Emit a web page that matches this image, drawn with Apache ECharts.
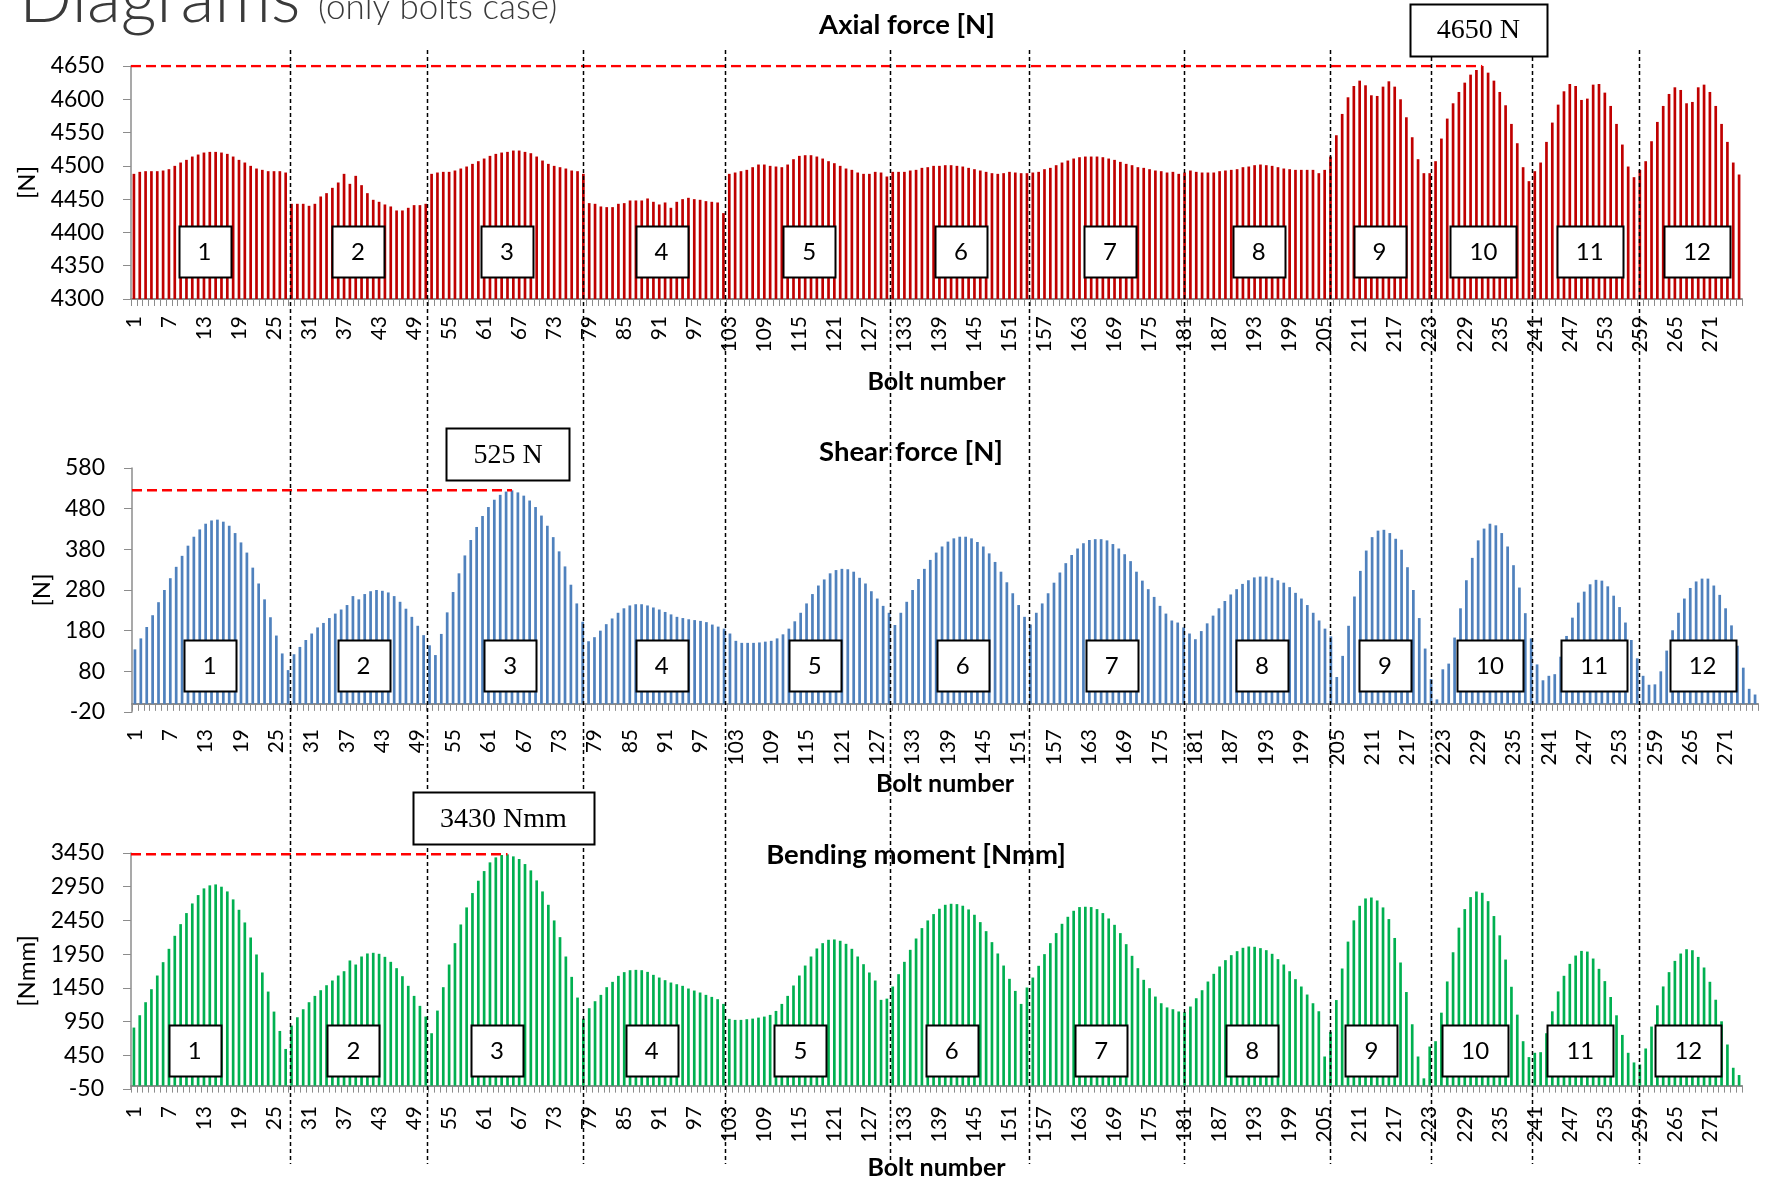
<!DOCTYPE html>
<html>
<head>
<meta charset="utf-8">
<script src="https://cdn.jsdelivr.net/npm/echarts@6/dist/echarts.min.js"></script>
<style>
  html, body { margin: 0; padding: 0; background: #ffffff; }
  #chart { width: 1770px; height: 1180px; }
</style>
</head>
<body>
<div id="chart"></div>
<script>
// Bolt numbers along the flange (categories of every panel)
const boltNumbers = Array.from({ length: 276 }, (_, i) => String(i + 1));

// Axial force per bolt [N], one line per bolt group
const axialForce = [
  4488, 4491, 4492, 4492, 4492, 4493, 4495, 4500, 4505, 4509, 4514, 4517, 4520, 4521, 4521, 4520, 4518, 4514, 4509, 4505, 4500, 4496, 4494, 4492, 4492, 4492, 4490,
  4443, 4443, 4443, 4440, 4443, 4454, 4459, 4467, 4475, 4488, 4473, 4485, 4471, 4459, 4449, 4446, 4442, 4439, 4433, 4433, 4437, 4441, 4441, 4443,
  4488, 4490, 4491, 4491, 4493, 4496, 4499, 4503, 4507, 4511, 4515, 4518, 4520, 4521, 4523, 4523, 4521, 4519, 4514, 4508, 4503, 4500, 4498, 4496, 4493, 4492, 4488,
  4444, 4443, 4439, 4438, 4438, 4443, 4444, 4448, 4448, 4448, 4451, 4446, 4442, 4445, 4437, 4446, 4450, 4452, 4450, 4449, 4447, 4446, 4445, 4429,
  4488, 4490, 4492, 4494, 4498, 4502, 4502, 4500, 4499, 4498, 4502, 4510, 4515, 4516, 4516, 4514, 4511, 4507, 4504, 4500, 4496, 4494, 4490, 4488, 4488, 4491, 4490,
  4484, 4491, 4491, 4491, 4493, 4494, 4497, 4498, 4500, 4500, 4501, 4501, 4500, 4499, 4497, 4495, 4493, 4491, 4489, 4488, 4489, 4491, 4490, 4489,
  4489, 4490, 4491, 4495, 4497, 4501, 4505, 4508, 4511, 4513, 4514, 4514, 4514, 4513, 4511, 4509, 4506, 4503, 4501, 4498, 4497, 4495, 4493, 4492, 4490, 4491, 4488,
  4490, 4493, 4491, 4490, 4490, 4490, 4492, 4493, 4494, 4495, 4498, 4499, 4501, 4502, 4501, 4500, 4498, 4496, 4495, 4494, 4494, 4494, 4494, 4489,
  4494, 4514, 4546, 4578, 4603, 4620, 4628, 4621, 4606, 4605, 4619, 4627, 4619, 4600, 4573, 4543, 4510, 4489,
  4489, 4507, 4541, 4571, 4594, 4611, 4625, 4637, 4644, 4650, 4640, 4628, 4611, 4591, 4563, 4534, 4498, 4477,
  4492, 4505, 4536, 4565, 4592, 4612, 4623, 4620, 4599, 4601, 4622, 4623, 4610, 4590, 4563, 4532, 4499, 4483,
  4494, 4507, 4537, 4566, 4590, 4608, 4618, 4614, 4594, 4596, 4618, 4622, 4611, 4590, 4563, 4536, 4505, 4487
];

// Shear force per bolt [N]
const shearForce = [
  134, 161, 189, 218, 250, 280, 309, 337, 364, 389, 411, 429, 443, 451, 453, 448, 438, 420, 397, 372, 335, 296, 257, 213, 168, 124, 83,
  122, 140, 157, 173, 188, 199, 211, 222, 232, 243, 265, 257, 270, 277, 280, 278, 274, 265, 251, 234, 214, 192, 169, 144,
  120, 172, 225, 275, 321, 365, 403, 435, 462, 484, 502, 514, 522, 525, 520, 512, 500, 484, 463, 438, 410, 375, 338, 293, 247, 202, 154,
  164, 180, 196, 210, 224, 235, 242, 245, 245, 242, 237, 232, 226, 220, 214, 211, 208, 206, 204, 201, 195, 190, 185, 173,
  155, 150, 150, 150, 151, 153, 155, 161, 171, 185, 203, 224, 247, 270, 291, 306, 321, 329, 332, 331, 325, 310, 296, 277, 259, 241, 224,
  194, 224, 251, 280, 307, 332, 354, 372, 387, 399, 407, 411, 411, 407, 398, 387, 370, 349, 325, 299, 272, 243, 214, 195,
  224, 247, 272, 298, 323, 346, 366, 382, 395, 403, 405, 405, 402, 393, 382, 368, 351, 325, 303, 282, 263, 241, 222, 205, 200, 188, 173,
  159, 179, 198, 217, 235, 253, 269, 282, 295, 304, 311, 313, 313, 310, 304, 298, 287, 273, 259, 243, 224, 205, 185, 166,
  66, 118, 192, 264, 327, 377, 410, 426, 428, 420, 406, 379, 336, 280, 211, 136, 61, 11,
  85, 99, 163, 235, 304, 359, 402, 431, 443, 439, 420, 387, 341, 286, 223, 161, 97, 58,
  69, 73, 116, 167, 212, 249, 276, 294, 305, 303, 289, 266, 238, 200, 157, 112, 69, 47,
  48, 80, 131, 181, 224, 259, 285, 301, 308, 308, 291, 268, 235, 193, 143, 89, 37, 23
];

// Bending moment per bolt [Nmm]
const bendingMoment = [
  861, 1044, 1237, 1430, 1633, 1831, 2029, 2222, 2395, 2559, 2702, 2826, 2925, 2970, 2984, 2950, 2880, 2762, 2608, 2420, 2197, 1945, 1678, 1395, 1098, 811, 544,
  891, 1014, 1133, 1237, 1331, 1415, 1489, 1559, 1633, 1697, 1856, 1796, 1915, 1960, 1970, 1955, 1910, 1836, 1742, 1623, 1480, 1331, 1183, 1024,
  777, 1113, 1460, 1796, 2113, 2390, 2643, 2856, 3039, 3182, 3311, 3385, 3420, 3430, 3400, 3361, 3286, 3192, 3044, 2880, 2682, 2450, 2202, 1915, 1613, 1306, 994,
  1148, 1252, 1346, 1460, 1539, 1628, 1683, 1712, 1717, 1712, 1687, 1643, 1603, 1564, 1529, 1504, 1480, 1440, 1410, 1381, 1346, 1316, 1282, 1212,
  990, 975, 975, 985, 994, 1009, 1024, 1049, 1108, 1212, 1331, 1485, 1633, 1781, 1915, 2034, 2113, 2163, 2168, 2148, 2103, 2029, 1915, 1801, 1678, 1559, 1272,
  1290, 1470, 1653, 1836, 2014, 2182, 2336, 2450, 2544, 2623, 2682, 2697, 2692, 2668, 2613, 2534, 2425, 2291, 2128, 1960, 1781, 1584, 1405, 1212,
  1455, 1603, 1777, 1950, 2113, 2262, 2400, 2504, 2593, 2648, 2653, 2648, 2618, 2559, 2479, 2385, 2262, 2098, 1925, 1742, 1569, 1445, 1321, 1222, 1160, 1133, 1100,
  1090, 1173, 1296, 1415, 1544, 1658, 1767, 1861, 1935, 1994, 2044, 2064, 2059, 2039, 2009, 1955, 1876, 1796, 1697, 1579, 1470, 1351, 1222, 1103,
  432, 797, 1269, 1737, 2136, 2451, 2667, 2776, 2790, 2746, 2643, 2470, 2190, 1826, 1388, 910, 432, 108,
  580, 659, 1082, 1545, 1978, 2343, 2618, 2796, 2879, 2860, 2736, 2515, 2229, 1870, 1466, 1053, 659, 423,
  487, 496, 777, 1102, 1397, 1629, 1806, 1929, 1998, 1988, 1885, 1732, 1550, 1314, 1043, 752, 487, 344,
  314, 551, 876, 1191, 1471, 1683, 1850, 1959, 2023, 2008, 1909, 1752, 1540, 1274, 954, 610, 265, 157
];

// Bolt group numbers
const groupNames = ['1', '2', '3', '4', '5', '6', '7', '8', '9', '10', '11', '12'];

// Where each group tag sits along the bolt axis (bolt number units), per panel
const axialTagAt = [13.1, 39.4, 64.9, 91.4, 116.7, 142.7, 168.2, 193.7, 214.4, 232.2, 250.4, 268.8];
const shearTagAt = [13.7, 39.8, 64.7, 90.4, 116.4, 141.5, 166.8, 192.3, 213.2, 231.0, 248.7, 267.1];
const bendingTagAt = [11.4, 38.6, 63.2, 89.7, 115.2, 141.1, 166.7, 192.6, 213.0, 230.8, 248.8, 267.3];

// Group separators, in bolt number units on the bolt axis
const dividerAt = [27.7, 51.2, 78.0, 102.2, 130.6, 154.4, 180.9, 206.0, 223.2, 240.5, 258.8];

// Value axis tick ranges [min, max, step]
const axialTicks = [4300, 4650, 50];
const shearTicks = [-20, 580, 100];
const bendingTicks = [-50, 3450, 500];

const FONT = 'Lato, "Open Sans", sans-serif';

const panels = [
  { values: axialForce, color: '#C00000', title: 'Axial force [N]', unit: 'N', axisName: '[N]', ticks: axialTicks, tagAt: axialTagAt,
    grid: { left: 131, right: 28, top: 66, height: 233 }, nameGap: 91, titleX: 907, titleY: 25, tagY: 251.5, boltGap: 70 },
  { values: shearForce, color: '#4F81BD', title: 'Shear force [N]', unit: 'N', axisName: '[N]', ticks: shearTicks, tagAt: shearTagAt,
    grid: { left: 132, right: 12, top: 468, height: 244 }, nameGap: 77, titleX: 911, titleY: 452, tagY: 665, boltGap: 59 },
  { values: bendingMoment, color: '#00B050', title: 'Bending moment [Nmm]', unit: 'Nmm', axisName: '[Nmm]', ticks: bendingTicks, tagAt: bendingTagAt,
    grid: { left: 131, right: 28, top: 853, height: 236 }, nameGap: 91, titleX: 916, titleY: 855.5, tagY: 1050, boltGap: 66 }
];

const peakOf = (arr) => {
  let idx = 0;
  arr.forEach((v, i) => { if (v > arr[idx]) idx = i; });
  return { index: idx, value: arr[idx] };
};

const grid = [], xAxis = [], yAxis = [], series = [];
panels.forEach((p, i) => {
  grid.push(Object.assign({ outerBoundsMode: 'none', containLabel: false }, p.grid));
  xAxis.push({
    type: 'category', gridIndex: i, data: boltNumbers, boundaryGap: true,
    axisLine: { show: true, onZero: true, lineStyle: { color: '#8C8C8C', width: 2 } },
    axisTick: { show: true, interval: 0, length: 7, lineStyle: { color: '#8C8C8C', width: 1 } },
    axisLabel: { interval: 5, rotate: 90, margin: 17, fontFamily: FONT, fontSize: 21, color: '#000' },
    splitLine: { show: false },
    name: 'Bolt number', nameLocation: 'middle', nameGap: p.boltGap,
    nameTextStyle: { fontFamily: FONT, fontWeight: 'bold', fontSize: 25, color: '#000' }
  });
  yAxis.push({
    type: 'value', gridIndex: i, min: p.ticks[0], max: p.ticks[1], interval: p.ticks[2],
    axisLine: { show: true, onZero: false, lineStyle: { color: '#8C8C8C', width: 1.5 } },
    axisTick: { show: true, length: 8, lineStyle: { color: '#8C8C8C', width: 1 } },
    axisLabel: { margin: 27, fontFamily: FONT, fontSize: 23, color: '#000', formatter: (v) => String(v) },
    splitLine: { show: false },
    name: p.axisName, nameLocation: 'middle', nameGap: p.nameGap,
    nameTextStyle: { fontFamily: FONT, fontSize: 24, color: '#000' }
  });
  series.push({
    type: 'bar', xAxisIndex: i, yAxisIndex: i, data: p.values,
    barWidth: '46%', itemStyle: { color: p.color }, silent: true
  });
});
// Hidden continuous bolt axes (bolt k sits at value k) used for annotations
panels.forEach((p, i) => {
  xAxis.push({ type: 'value', gridIndex: i, min: 0.5, max: 276.5, show: false });
});
// Red dashed reference line at each panel's peak value
panels.forEach((p, i) => {
  const pk = peakOf(p.values);
  series.push({
    type: 'line', xAxisIndex: 3 + i, yAxisIndex: i, symbol: 'none', silent: true, z: 4,
    data: [[0.5, pk.value], [pk.index + 1, pk.value]],
    lineStyle: { color: '#FF0000', width: 2.5, type: [10, 5] }
  });
});

const chart = echarts.init(document.getElementById('chart'), null, { renderer: 'canvas' });
chart.setOption({ animation: false, backgroundColor: '#ffffff', grid, xAxis, yAxis, series });

// Annotations placed through the panel scales
const measure = (() => {
  const ctx = document.createElement('canvas').getContext('2d');
  return (text, font) => { ctx.font = font; return ctx.measureText(text).width; };
})();
const boltX = (panel, bolt) => chart.convertToPixel({ xAxisIndex: 3 + panel }, bolt);
const valueY = (panel, v) => chart.convertToPixel({ yAxisIndex: panel }, v);

const graphic = [];
graphic.push({ type: 'text', z: 10, style: { x: 19, y: -1, text: 'Diagrams', font: '300 70px ' + FONT, fill: '#3A3A3A', verticalAlign: 'middle' } });
graphic.push({ type: 'text', z: 10, style: { x: 318, y: 8, text: '(only bolts case)', font: '300 35px ' + FONT, fill: '#3A3A3A', verticalAlign: 'middle' } });

panels.forEach((p) => {
  graphic.push({ type: 'text', z: 10, style: { x: p.titleX, y: p.titleY, text: p.title, font: 'bold 27.5px ' + FONT, fill: '#000', align: 'center', verticalAlign: 'middle' } });
});

dividerAt.forEach((b) => {
  const x = Math.round(boltX(0, b)) + 0.5;
  graphic.push({ type: 'line', z: 20, shape: { x1: x, y1: 50, x2: x, y2: 1164 },
    style: { stroke: '#000', lineWidth: 1.5, lineDash: [4, 3] } });
});

panels.forEach((p, i) => {
  p.tagAt.forEach((b, g) => {
    const cx = boltX(i, b);
    const w = groupNames[g].length > 1 ? 66 : 52, h = 51;
    graphic.push({ type: 'rect', z: 30, shape: { x: Math.round(cx - w / 2) + 0.5, y: Math.round(p.tagY - h / 2) + 0.5, width: w, height: h },
      style: { fill: '#fff', stroke: '#000', lineWidth: 2 } });
    graphic.push({ type: 'text', z: 31, style: { x: cx, y: p.tagY + 1, text: groupNames[g], font: '24px ' + FONT, fill: '#000', align: 'center', verticalAlign: 'middle' } });
  });
  const pk = peakOf(p.values);
  const label = pk.value + ' ' + p.unit;
  const font = '28px "Liberation Serif", "DejaVu Serif", serif';
  const w = Math.round(measure(label, font) + 54), h = 52;
  const cx = boltX(i, pk.index + 1) - 4;
  const bottom = valueY(i, pk.value) - 10;
  graphic.push({ type: 'rect', z: 30, shape: { x: Math.round(cx - w / 2) + 0.5, y: Math.round(bottom - h) + 0.5, width: w, height: h },
    style: { fill: '#fff', stroke: '#000', lineWidth: 2 } });
  graphic.push({ type: 'text', z: 31, style: { x: cx, y: bottom - h / 2 + 1, text: label, font, fill: '#000', align: 'center', verticalAlign: 'middle' } });
});

chart.setOption({ graphic });
</script>
</body>
</html>
